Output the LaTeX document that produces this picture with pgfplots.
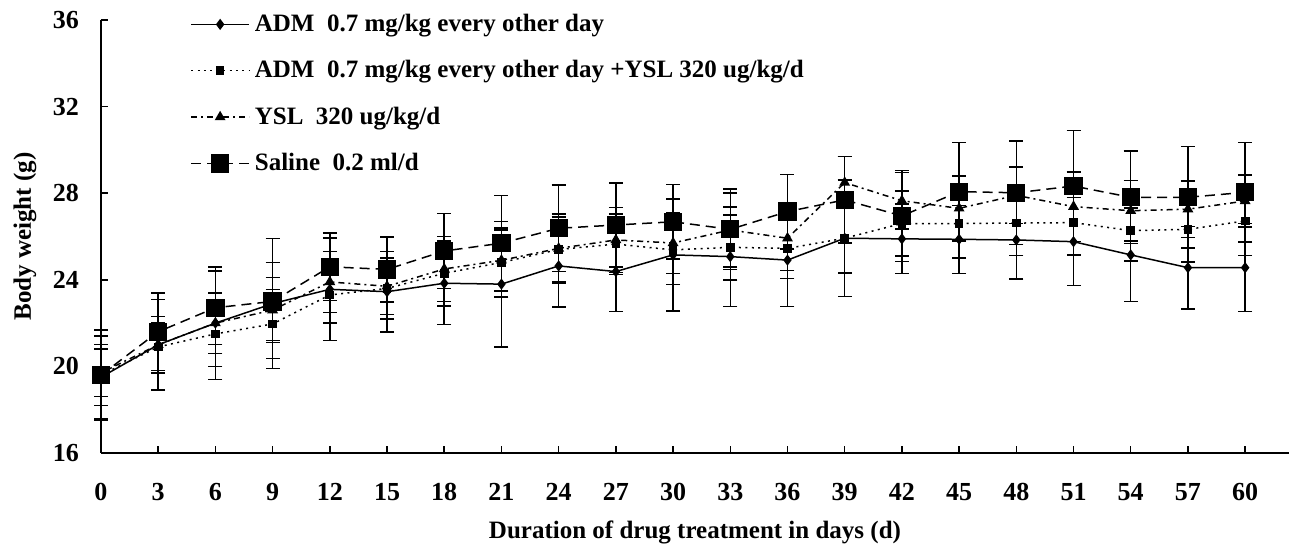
\documentclass[border=0pt]{standalone}
\usepackage{pgfplots}
\pgfplotsset{compat=1.18}
\usepackage{pgfplotstable}
\usepackage{fontspec}
\setmainfont{Liberation Serif}

\pgfplotstableread{
x y e
0 19.5 1.9
3 21.0 2.1
6 22.0 2.6
9 22.9 3.0
12 23.56 2.36
15 23.45 1.85
18 23.84 1.9
21 23.8 2.9
24 24.64 1.9
27 24.38 1.85
30 25.15 2.58
33 25.07 2.3
36 24.91 2.15
39 25.92 2.7
42 25.89 1.6
45 25.87 1.57
48 25.84 1.8
51 25.76 2.03
54 25.15 2.16
57 24.56 1.9
60 24.56 2.03
}\adm

\pgfplotstableread{
x y e
0 19.6 1.4
3 20.9 1.1
6 21.5 1.5
9 21.96 1.6
12 23.3 1.3
15 23.6 1.4
18 24.3 1.5
21 24.8 1.6
24 25.4 1.5
27 25.65 1.4
30 25.38 1.6
33 25.5 1.5
36 25.45 1.4
39 25.92 1.6
42 26.6 1.5
45 26.6 1.6
48 26.62 1.5
51 26.64 1.5
54 26.27 1.4
57 26.33 1.5
60 26.72 1.6
}\admysl

\pgfplotstableread{
x y e
0 19.7 1.1
3 21.0 1.3
6 22.0 1.4
9 22.6 1.5
12 23.9 1.4
15 23.7 1.3
18 24.5 1.5
21 24.9 1.4
24 25.45 1.6
27 25.84 1.5
30 25.7 1.4
33 26.3 1.7
36 25.92 1.5
39 28.49 1.2
42 27.65 1.3
45 27.3 1.5
48 27.9 1.3
51 27.38 1.6
54 27.19 1.4
57 27.26 1.3
60 27.64 1.2
}\ysl

\pgfplotstableread{
x y e
0 19.6 2.08
3 21.6 1.8
6 22.71 1.7
9 23.0 1.8
12 24.6 1.55
15 24.48 1.5
18 25.33 1.74
21 25.69 2.2
24 26.38 2.0
27 26.53 1.93
30 26.68 1.72
33 26.33 1.86
36 27.15 1.72
39 27.69 2.0
42 26.95 2.1
45 28.07 2.26
48 28.02 2.38
51 28.33 2.57
54 27.81 2.14
57 27.81 2.34
60 28.04 2.3
}\saline

\begin{document}
\begin{tikzpicture}
\useasboundingbox (0,0) rectangle (647.5pt,275pt);
\begin{axis}[
  at={(50.5pt,48.5pt)}, anchor=south west,
  scale only axis, width=594pt, height=216.5pt,
  xmin=0, xmax=62.3, ymin=16, ymax=36,
  axis x line=bottom, axis y line=left,
  axis line style={-, line width=0.75pt, black},
  xtick={0,3,...,60}, ytick={16,20,...,36},
  tick align=inside,
  tick style={black, line width=0.75pt},
  major tick length=3.5pt,
  ticklabel style={font=\fontsize{13}{15}\selectfont\bfseries},
  /pgf/number format/assume math mode=true,
  xticklabel style={yshift=-11.5pt},
  yticklabel style={xshift=-7.5pt},
  xlabel={Duration of drug treatment in days (d)},
  xlabel style={at={(axis description cs:0.5,-0.1825)}, anchor=center, font=\fontsize{12.5}{15}\selectfont\bfseries},
  ylabel={Body weight (g)},
  ylabel style={at={(axis description cs:-0.064,0.5)}, anchor=center, font=\fontsize{12.5}{15}\selectfont\bfseries},
  clip=false,
  legend style={at={(axis description cs:0.0749,1.0235)}, anchor=north west, draw=none, fill=none,
    font=\fontsize{12.5}{15}\selectfont\bfseries, row sep=9pt, inner sep=0pt,
    nodes={inner xsep=2.5pt}},
  legend cell align=left,
  legend image code/.code={\draw[mark repeat=2,mark phase=2,#1] plot coordinates {(0pt,0pt)(14.5pt,0pt)(29pt,0pt)};},
  every axis plot/.append style={black, line width=0.75pt},
  error bars/y dir=both, error bars/y explicit,
  error bars/error bar style={solid, line width=0.75pt},
  error bars/error mark options={solid, mark size=3.5pt, line width=0.75pt, rotate=90},
]
\addplot[solid, mark=diamond*, mark size=2.2pt, mark options={solid}] table[x=x,y=y,y error=e] {\adm};
\addlegendentry{ADM\ \ 0.7 mg/kg every other day}
\addplot[dash pattern=on 1pt off 2.2pt, mark=square*, mark size=1.8pt, mark options={solid}] table[x=x,y=y,y error=e] {\admysl};
\addlegendentry{ADM\ \ 0.7 mg/kg every other day +YSL 320 ug/kg/d}
\addplot[dash pattern=on 3pt off 2pt on 1pt off 2pt, mark=triangle*, mark size=2.4pt, mark options={solid}] table[x=x,y=y,y error=e] {\ysl};
\addlegendentry{YSL\ \ 320 ug/kg/d}
\addplot[dash pattern=on 5pt off 3pt, mark=square*, mark size=4.2pt, mark options={solid}] table[x=x,y=y,y error=e] {\saline};
\addlegendentry{Saline\ \ 0.2 ml/d}
\end{axis}
\end{tikzpicture}
\end{document}
